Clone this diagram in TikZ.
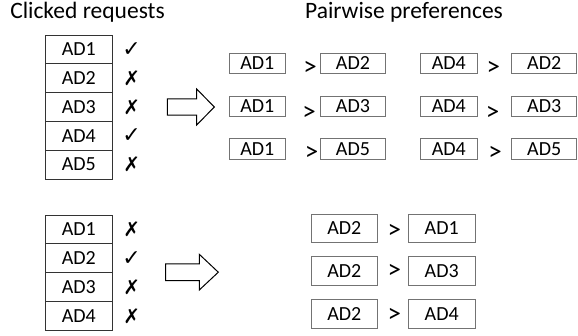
\documentclass[tikz,border=0pt]{standalone}
\usepackage{fontspec}
\setmainfont{Carlito}
\newfontfamily\symfont{DejaVu Sans}
\newcommand\ckm{{\fontsize{22}{26}\selectfont\bfseries ✓}}
\newcommand\crm{{\fontsize{20}{24}\selectfont\bfseries ✗}}
\begin{document}
\begin{tikzpicture}[x=1pt,y=-1pt,
  stackbox/.style={draw=black!80, line width=0.7pt, minimum width=67pt, minimum height=28.8pt, inner sep=0pt, font=\fontsize{20}{24}\selectfont},
  prefbox/.style={draw=black!55, line width=0.7pt, minimum height=20.3pt, inner sep=0pt, font=\fontsize{20}{24}\selectfont},
  prefboxb/.style={prefbox, minimum width=66.7pt, minimum height=28.4pt},
  gtsign/.style={inner sep=0pt, font=\fontsize{27}{30}\selectfont},
  markstyle/.style={inner sep=0pt, font=\symfont},
  titlestyle/.style={inner sep=0pt, anchor=base, font=\fontsize{23.5}{27}\selectfont},
  blockarrow/.style={draw=black, line width=1pt, fill=white}
]
\useasboundingbox (0,0) rectangle (578,335);

% titles
\node[titlestyle] (t1) at (87.5,18.3) {Clicked requests};
\node[titlestyle] (t2) at (404,18.3) {Pairwise preferences};

% top stack
\foreach \i/\m [count=\k] in {1/\ckm,2/\crm,3/\crm,4/\ckm,5/\crm}{
  \node[stackbox] (s\i) at (78.8,{35+14.4+(\k-1)*28.8}) {AD\i};
  \node[markstyle] (m\i) at (131.7,{35+14.4+(\k-1)*28.8}) {\m};
}
% bottom stack
\foreach \i/\m [count=\k] in {1/\crm,2/\ckm,3/\crm,4/\crm}{
  \node[stackbox] (b\i) at (78.8,{215+14.4+(\k-1)*28.8}) {AD\i};
  \node[markstyle] (n\i) at (131.7,{215+14.4+(\k-1)*28.8}) {\m};
}

% block arrows
\draw[blockarrow] (167.3,98.8) -- (196.7,98.8) -- (196.7,89) -- (214.3,107) -- (196.7,125) -- (196.7,115.2) -- (167.3,115.2) -- cycle;
\draw[blockarrow] (165.7,263.9) -- (199.3,263.9) -- (199.3,254.3) -- (218.3,272.2) -- (199.3,290) -- (199.3,280.5) -- (165.7,280.5) -- cycle;

% top right preferences
\foreach \r/\y/\gy/\ga/\gb/\c/\d in {1/63.3/68.7/310/493.3/2/2, 2/106/113/309/492.7/3/3, 3/148.7/153.3/311.7/495/5/5}{
  \node[prefbox, minimum width=56pt] (pa\r) at (257.3,\y) {AD1};
  \node[gtsign] (ga\r) at (\ga,\gy) {>};
  \node[prefbox, minimum width=64.6pt] (pb\r) at (353,\y) {AD\c};
  \node[prefbox, minimum width=57.7pt] (pc\r) at (448.8,\y) {AD4};
  \node[gtsign] (gb\r) at (\gb,\gy) {>};
  \node[prefbox, minimum width=65pt] (pd\r) at (544.2,\y) {AD\d};
}

% bottom right preferences
\foreach \r/\y/\gy/\c in {1/228.2/231.7/1, 2/270.8/271.7/3, 3/313.8/315/4}{
  \node[prefboxb] (qa\r) at (344.3,\y) {AD2};
  \node[gtsign] (qg\r) at (394.3,\gy) {>};
  \node[prefboxb] (qb\r) at (441.7,\y) {AD\c};
}
\end{tikzpicture}
\end{document}
